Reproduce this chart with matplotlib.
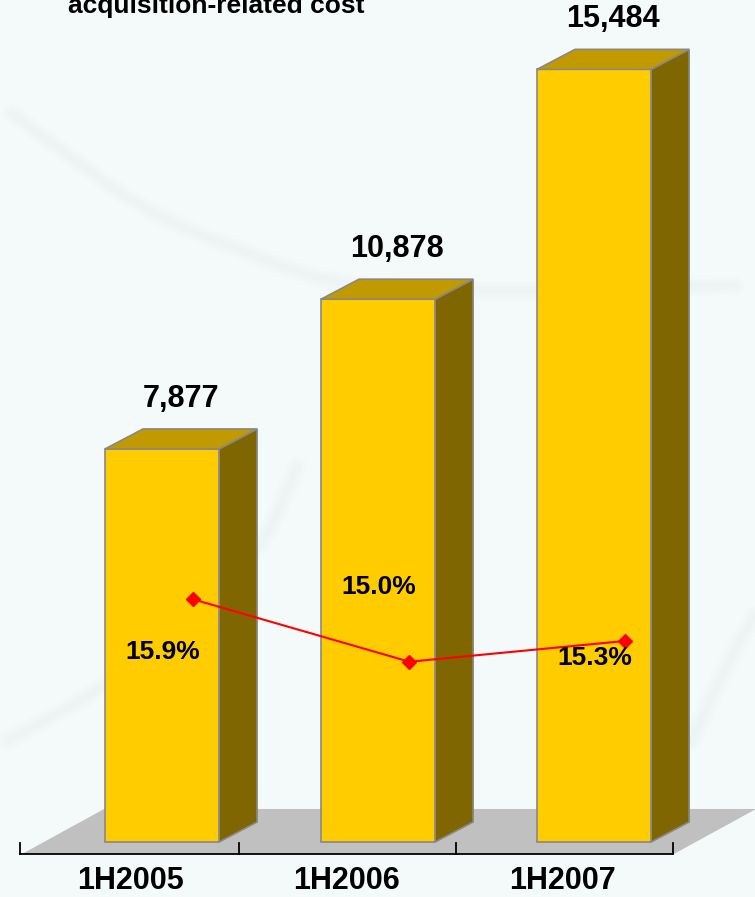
# Revenue bars with margin line, 3D style
import matplotlib
matplotlib.use('Agg')
import matplotlib.pyplot as plt
import numpy as np
from matplotlib.patches import Polygon

periods = ['1H2005', '1H2006', '1H2007']
revenue = [7877, 10878, 15484]
margin = [15.9, 15.0, 15.3]
margin_labels = ['15.9%', '15.0%', '15.3%']

plt.rcParams['font.family'] = ['Liberation Sans', 'DejaVu Sans']

bg = '#F4FAF9'
front_col = '#FFCC00'
top_col = '#C09A00'
side_col = '#806600'
edge_col = '#888888'

fig = plt.figure(figsize=(7.55, 8.97), dpi=100)
fig.patch.set_facecolor(bg)

# faint background swooshes, pixel coordinates
bgax = fig.add_axes((0, 0, 1, 1), zorder=0)
bgax.set_xlim(0, 755)
bgax.set_ylim(897, 0)
bgax.axis('off')
swooshes = [
    ([0, 150, 330, 500, 755], [105, 215, 285, 292, 285]),
    ([0, 100, 200, 265, 300], [745, 690, 610, 540, 460]),
    ([690, 715, 740, 755], [745, 690, 640, 615]),
]
for xs, ys in swooshes:
    t = np.linspace(0, 1, 200)
    k = np.linspace(0, 1, len(xs))
    cx = np.interp(t, k, xs)
    cy = np.interp(t, k, ys)
    # smooth the polyline a little
    cx = np.convolve(np.pad(cx, 15, mode='edge'), np.ones(31) / 31, mode='valid')
    cy = np.convolve(np.pad(cy, 15, mode='edge'), np.ones(31) / 31, mode='valid')
    for lw, a in ((14, 0.015), (9, 0.02), (5, 0.025)):
        bgax.plot(cx, cy, color='#A8B0B0', lw=lw, alpha=a, solid_capstyle='round')

# main axes: x in category units, y in revenue units
ax = fig.add_axes((0, 0, 1, 1), zorder=1)
ax.set_xlim(-0.75, 2.745)
ax.set_ylim(-1102, 16874)
ax.axis('off')
ax.patch.set_alpha(0)

hw = 0.264    # half bar width
dx = 0.176    # depth offset, x
dy = 401      # depth offset, y

# floor
floor = Polygon([(-0.648, -240), (2.370, -240), (2.75, 662), (-0.268, 662)],
                closed=True, facecolor='#C0C0C0', edgecolor='none')
ax.add_patch(floor)

x = np.arange(len(periods))
for i, v in zip(x, revenue):
    front = Polygon([(i - hw, 0), (i + hw, 0), (i + hw, v), (i - hw, v)],
                    facecolor=front_col, edgecolor=edge_col, lw=1.2)
    top = Polygon([(i - hw, v), (i + hw, v), (i + hw + dx, v + dy), (i - hw + dx, v + dy)],
                  facecolor=top_col, edgecolor=edge_col, lw=1.2)
    side = Polygon([(i + hw, 0), (i + hw + dx, dy), (i + hw + dx, v + dy), (i + hw, v)],
                   facecolor=side_col, edgecolor=edge_col, lw=1.2)
    for p in (side, front, top):
        ax.add_patch(p)
    ax.annotate('{:,}'.format(v), (i + dx / 2, v), xytext=(0, 36),
                textcoords='offset points', ha='center', va='center',
                fontsize=22, fontweight='bold')

# category axis line with ticks
ax.plot([-0.657, 2.366], [-240, -240], color='black', lw=1.3)
for t in [-0.657, 0.355, 1.362, 2.366]:
    ax.plot([t, t], [-240, -20], color='black', lw=1.3)
for i, name in zip(x, periods):
    ax.text(i - 0.145, -780, name, ha='center', va='center',
            fontsize=22, fontweight='bold')

# margin line on its own scale
ax2 = fig.add_axes((0, 0, 1, 1), zorder=2)
ax2.set_xlim(-0.75, 2.745)
ax2.set_ylim(11.605, 24.549)
ax2.axis('off')
ax2.patch.set_alpha(0)
ax2.plot(x + 0.145, margin, color='#FF0000', lw=1.5, marker='D',
         markersize=7, markerfacecolor='#FF0000', markeredgecolor='#FF0000')
label_dy = [-38, 54, -12]
for i, m, lab, off in zip(x, margin, margin_labels, label_dy):
    ax2.annotate(lab, (i + 0.145, m), xytext=(-22, off), textcoords='offset points',
                 ha='center', va='center', fontsize=19, fontweight='bold')

fig.text(68 / 755, 1 - 13 / 897, 'acquisition-related cost', ha='left', va='baseline',
         fontsize=19, fontweight='bold')

plt.savefig('out.png', dpi=100, facecolor=bg)
